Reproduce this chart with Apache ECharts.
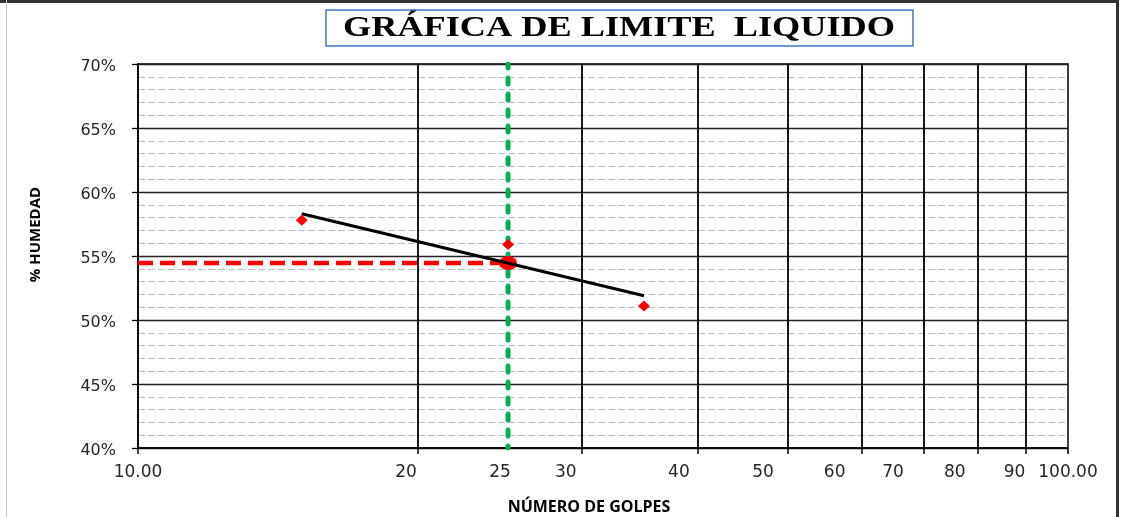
<!DOCTYPE html>
<html>
<head>
<meta charset="utf-8">
<script src="https://cdn.jsdelivr.net/npm/echarts@6/dist/echarts.min.js"></script>
<style>
html,body{margin:0;padding:0;background:#fff;}
#chart{width:1121px;height:517px;}
</style>
</head>
<body>
<div id="chart"></div>
<script>
// ---- data ----
const blows = [15, 25, 35];                 // número de golpes
const moisture = [57.8, 55.9, 51.1];        // % humedad
const trendBlows = [15, 35];                // trend line ends
const trendMoisture = [58.3, 51.9];
const liquidLimitBlows = 25;
const liquidLimit = 54.45;
const xLabelValues = [10, 20, 25, 30, 40, 50, 60, 70, 80, 90, 100];
const xTickValues = [10, 20, 30, 40, 50, 60, 70, 80, 90, 100];
const xGridValues = [20, 30, 40, 50, 60, 70, 80, 90];
const yMin = 40, yMax = 70, yStep = 5;

// ---- style helpers (label nudges in px, not data) ----
const xLabelNudge = [0, -12, -8, -16, -19, -25, -27, -31, -23, -11, 0];
const rich = {};
xLabelNudge.forEach((d, i) => {
  rich['l' + i] = {
    fontSize: 17, fontFamily: 'DejaVu Sans', color: '#262626',
    padding: d < 0 ? [0, -2 * d, 0, 0] : [0, 0, 0, 2 * d]
  };
});
function xFmt(v) {
  let idx = xLabelValues.findIndex(x => Math.abs(x - v) < 1e-6);
  if (idx < 0) return '';
  const txt = (v === 10 || v === 100) ? v.toFixed(2) : String(v);
  return '{l' + idx + '|' + txt + '}';
}

const ellipse = 'path://M0,50 A50,50 0 1,1 100,50 A50,50 0 1,1 0,50 Z';

const chart = echarts.init(document.getElementById('chart'), null, {renderer: 'canvas'});
chart.setOption({
  animation: false,
  backgroundColor: '#fff',
  grid: {left: 138, right: 53, top: 64, bottom: 69, show: true, borderColor: '#000', borderWidth: 1.5,
    backgroundColor: 'transparent', containLabel: false, outerBoundsMode: 'none'},
  xAxis: {
    type: 'log', logBase: 10, min: 10, max: 100,
    name: 'NÚMERO DE GOLPES', nameLocation: 'middle', nameGap: 51,
    nameTextStyle: {fontSize: 16, fontWeight: 'bold', fontFamily: 'Open Sans', color: '#000', padding: [0, 28, 0, 0]},
    axisLine: {show: true, lineStyle: {color: '#000', width: 1.5}},
    axisTick: {show: true, inside: false, length: 6, customValues: xTickValues, lineStyle: {color: '#000', width: 1.5}},
    axisLabel: {show: true, margin: 16, customValues: xLabelValues, formatter: xFmt, rich: rich, hideOverlap: false},
    splitLine: {show: false},
    minorTick: {show: false}, minorSplitLine: {show: false}
  },
  yAxis: {
    type: 'value', min: yMin, max: yMax, interval: yStep,
    name: '% HUMEDAD', nameLocation: 'middle', nameGap: 95,
    nameTextStyle: {fontSize: 15, fontWeight: 'bold', fontFamily: 'Open Sans', color: '#000', padding: [0, 0, 0, 43]},
    axisLine: {show: true, lineStyle: {color: '#000', width: 1.5}},
    axisTick: {show: true, inside: false, length: 6, lineStyle: {color: '#000', width: 1.3}},
    axisLabel: {formatter: '{p|{value}%}', margin: 22,
      rich: {p: {fontSize: 16, fontFamily: 'DejaVu Sans', color: '#262626', padding: [6, 0, 0, 0]}}},
    splitLine: {show: true, lineStyle: {color: '#222', width: 1.3, type: 'solid'}},
    minorTick: {show: false, splitNumber: 5},
    minorSplitLine: {show: true, lineStyle: {color: '#bcbcbc', width: 1, type: [7, 3]}}
  },
  graphic: [
    {type: 'line', silent: true, z: 100, shape: {x1: 0, y1: 1.5, x2: 1119, y2: 1.5}, style: {stroke: '#333', lineWidth: 3}},
    {type: 'line', silent: true, z: 100, shape: {x1: 1117.5, y1: 0, x2: 1117.5, y2: 517}, style: {stroke: '#333', lineWidth: 3}},
    {type: 'line', silent: true, z: 100, shape: {x1: 6.5, y1: 0, x2: 6.5, y2: 517}, style: {stroke: '#c8c8c8', lineWidth: 1}},
    {type: 'rect', silent: true, z: 100, shape: {x: 326, y: 10, width: 587, height: 36}, style: {fill: '#fff', stroke: '#4472C4', lineWidth: 1.5}},
    {type: 'text', silent: true, z: 101, x: 619, y: 29, scaleX: 1.25,
      style: {text: 'GRÁFICA DE LIMITE  LIQUIDO', fontSize: 29, fontWeight: 'bold', fontFamily: '"Liberation Serif", "DejaVu Serif", serif', fill: '#000', align: 'center', verticalAlign: 'middle'}}
  ],
  series: [
    {
      type: 'line', data: [], z: 1, silent: true,
      markLine: {silent: true, symbol: ['none', 'none'], label: {show: false},
        lineStyle: {color: '#000', width: 1.8, type: 'solid'},
        data: xGridValues.map(v => ({xAxis: v}))}
    },
    {
      name: 'LL vertical', type: 'line', z: 3, silent: true, symbol: 'none',
      data: [[liquidLimitBlows, yMin], [liquidLimitBlows, yMax]],
      lineStyle: {color: '#00B050', width: 5, type: [6, 10], dashOffset: 4, cap: 'round'}
    },
    {
      name: 'LL horizontal', type: 'line', z: 3, silent: true, symbol: 'none',
      data: [[10, liquidLimit], [liquidLimitBlows, liquidLimit]],
      lineStyle: {color: '#FF0000', width: 4.5, type: [15, 7]}
    },
    {
      name: 'LL', type: 'scatter', z: 4, symbol: ellipse, symbolKeepAspect: false, symbolSize: [18, 14],
      itemStyle: {color: '#FF0000', opacity: 1},
      data: [[liquidLimitBlows, liquidLimit]]
    },
    {
      name: 'Tendencia', type: 'line', z: 5, symbol: 'none',
      data: trendBlows.map((b, i) => [b, trendMoisture[i]]),
      lineStyle: {color: '#000', width: 3}
    },
    {
      name: 'Ensayos', type: 'scatter', z: 6, symbol: 'diamond', symbolSize: [12, 11],
      itemStyle: {color: '#FF0000', opacity: 1},
      data: blows.map((b, i) => [b, moisture[i]])
    }
  ]
});
</script>
</body>
</html>
